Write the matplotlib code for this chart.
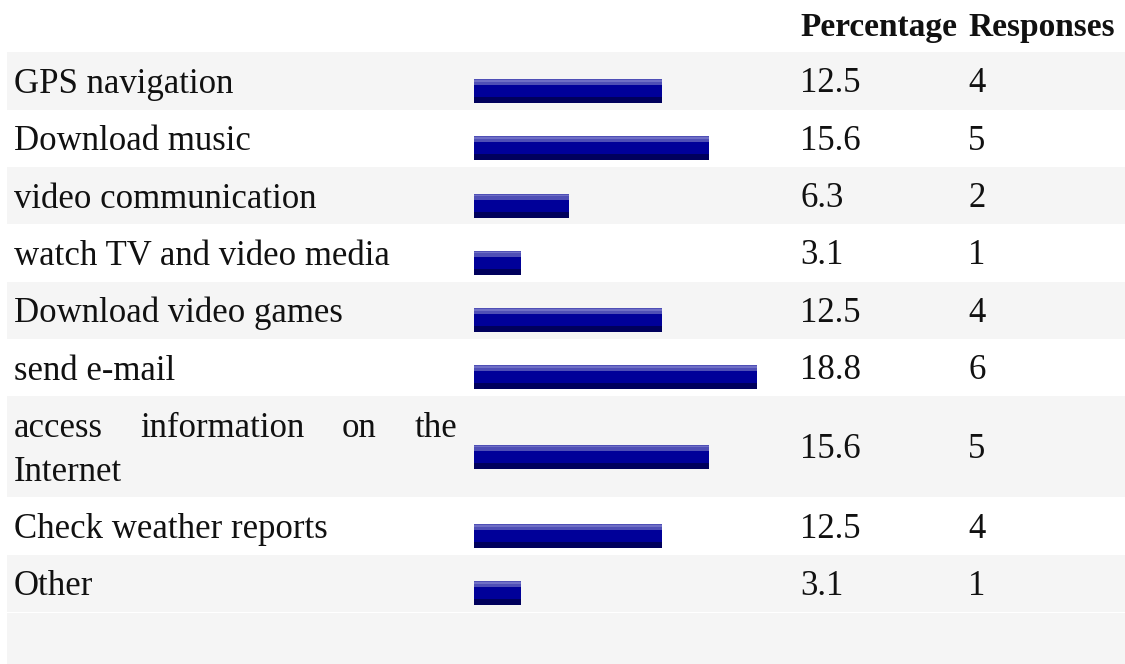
import matplotlib.pyplot as plt

# Survey results: one row per answer, with a bar, a percentage and a count
labels = [
    "GPS navigation",
    "Download music",
    "video communication",
    "watch TV and video media",
    "Download video games",
    "send e-mail",
    "access information on the\nInternet",
    "Check weather reports",
    "Other",
]
percentages = [12.5, 15.6, 6.3, 3.1, 12.5, 18.8, 15.6, 12.5, 3.1]
responses = [4, 5, 2, 1, 4, 6, 5, 4, 1]
headers = ["Percentage", "Responses"]

W, H = 1125, 664
fig = plt.figure(figsize=(W / 100, H / 100), dpi=100)
fig.patch.set_facecolor("white")

# full-figure axes working in pixel units for the table layout
ax = fig.add_axes([0, 0, 1, 1])
ax.set_xlim(0, W)
ax.set_ylim(H, 0)
ax.axis("off")

# bar axes: 0..20 percent spread over ~301 px, starting at x=474
bar_left, bar_width_px, pct_max = 474, 301, 20.0
axb = fig.add_axes([bar_left / W, 0, bar_width_px / W, 1])
axb.set_xlim(0, pct_max)
axb.set_ylim(H, 0)
axb.axis("off")
axb.patch.set_alpha(0)

font = "Liberation Serif"
fs = 25
txt_color = "#111111"
gray = "#f5f5f5"

label_x, pct_x, resp_x = 14, 800, 968
label_right = 457
header_bottom = 52.3
row_h, line_h = 57.3, 44

# header
ax.text(pct_x, 36, headers[0], fontsize=24, fontweight="bold", family=font,
        color=txt_color, va="baseline", ha="left")
ax.text(resp_x, 36, headers[1], fontsize=24, fontweight="bold", family=font,
        color=txt_color, va="baseline", ha="left")

renderer = fig.canvas.get_renderer()

top = header_bottom
for i, (lab, pct, resp) in enumerate(zip(labels, percentages, responses)):
    lines = lab.split("\n")
    h = row_h + line_h * (len(lines) - 1)
    if i % 2 == 0:
        ax.axhspan(top, top + h, xmin=7 / W, xmax=1, color=gray, lw=0, zorder=0)
    base = top + 40.7
    for j, line in enumerate(lines):
        y = base + j * line_h
        if j < len(lines) - 1:
            # justified line: spread words between the left and right edges
            words = line.split()
            objs = [ax.text(0, y, w, fontsize=fs, family=font, color=txt_color,
                            va="baseline", ha="left") for w in words]
            widths = [o.get_window_extent(renderer).width for o in objs]
            gap = (label_right - label_x - sum(widths)) / (len(words) - 1)
            x = label_x
            for o, wd in zip(objs, widths):
                o.set_x(x)
                x += wd + gap
        else:
            ax.text(label_x, y, line, fontsize=fs, family=font, color=txt_color,
                    va="baseline", ha="left")

    mid = top + h / 2
    ax.text(pct_x, mid + 11.5, f"{pct:.1f}", fontsize=fs, family=font,
            color=txt_color, va="baseline", ha="left")
    ax.text(resp_x, mid + 11.5, str(resp), fontsize=fs, family=font,
            color=txt_color, va="baseline", ha="left")

    # layered bar: dark base, main blue, light top band with a highlight stripe
    yc = mid + 10
    axb.barh(yc, pct, height=24, left=0, color="#00005c", lw=0)
    axb.barh(yc - 3, pct, height=18, left=0, color="#000099", lw=0)
    axb.barh(yc - 9, pct, height=6, left=0, color="#4f4fb6", lw=0)
    axb.barh(yc - 10.2, pct, height=1.6, left=0, color="#6f6fc6", lw=0)

    top += h

# trailing empty row
ax.axhspan(top + 1, H, xmin=7 / W, xmax=1, color=gray, lw=0, zorder=0)

fig.savefig("out.png", dpi=100)
